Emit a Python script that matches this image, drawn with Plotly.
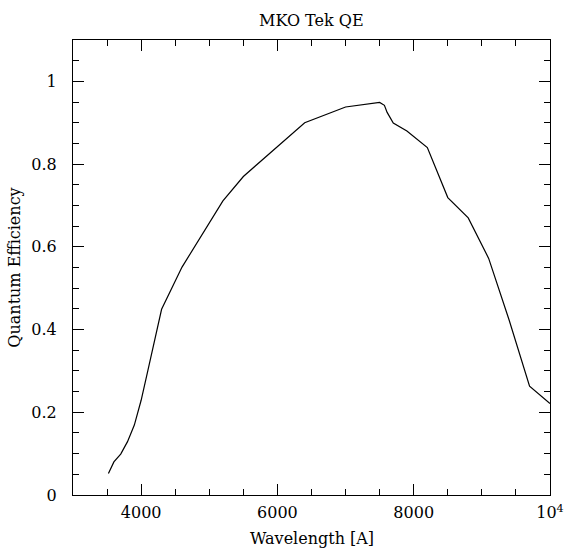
import plotly.graph_objects as go

wavelength = [3520, 3600, 3700, 3800, 3900, 4000, 4100, 4200, 4300, 4600, 4900, 5200,
              5500, 5800, 6400, 7000, 7500, 7570, 7610, 7700, 7900, 8200, 8500, 8800,
              9100, 9400, 9700, 10000]
qe = [0.052, 0.080, 0.099, 0.129, 0.169, 0.229, 0.302, 0.374, 0.449, 0.551, 0.632, 0.711,
      0.770, 0.814, 0.900, 0.938, 0.949, 0.942, 0.925, 0.899, 0.880, 0.840, 0.719, 0.670,
      0.572, 0.423, 0.263, 0.221]

x_tickvals = [4000, 6000, 8000, 10000]
x_ticktext = ["4000", "6000", "8000", "10<sup>4</sup>"]
y_tickvals = [0, 0.2, 0.4, 0.6, 0.8, 1.0]
y_ticktext = ["0", "0.2", "0.4", "0.6", "0.8", "1"]

FONT = "DejaVu Serif"

fig = go.Figure()
fig.add_trace(go.Scatter(x=wavelength, y=qe, mode="lines",
                         line=dict(color="black", width=1.2), showlegend=False))
# invisible trace to activate mirror axes
fig.add_trace(go.Scatter(x=[3000], y=[0], xaxis="x2", yaxis="y2", mode="markers",
                         marker=dict(opacity=0), showlegend=False, hoverinfo="skip"))

common = dict(showgrid=False, zeroline=False, showline=True, linecolor="black", linewidth=1.2,
              ticks="inside", ticklen=11, tickwidth=1, tickcolor="black", automargin=False)

fig.update_layout(
    width=564, height=550,
    margin=dict(l=73, r=14, t=40, b=55),
    paper_bgcolor="white", plot_bgcolor="white",
    font=dict(family=FONT, size=16, color="black"),
    xaxis=dict(range=[3000, 10000], tickvals=x_tickvals, ticktext=x_ticktext,
               tickfont=dict(size=16), ticklabelstandoff=3,
               minor=dict(dtick=500, tick0=0, ticks="inside", ticklen=5.5, tickcolor="black"),
               **common),
    yaxis=dict(range=[0, 1.1], tickvals=y_tickvals, ticktext=y_ticktext,
               tickfont=dict(size=16), ticklabelstandoff=12,
               minor=dict(dtick=0.05, tick0=0, ticks="inside", ticklen=5.5, tickcolor="black"),
               title=dict(text="Quantum Efficiency", standoff=6, font=dict(size=16)),
               **common),
    xaxis2=dict(range=[3000, 10000], overlaying="x", side="top", anchor="y", showticklabels=False,
                tickvals=x_tickvals,
                minor=dict(dtick=500, tick0=0, ticks="inside", ticklen=5.5, tickcolor="black"),
                **common),
    yaxis2=dict(range=[0, 1.1], overlaying="y", side="right", anchor="x", showticklabels=False,
                tickvals=y_tickvals,
                minor=dict(dtick=0.05, tick0=0, ticks="inside", ticklen=5.5, tickcolor="black"),
                **common),
    annotations=[
        dict(text="MKO Tek QE", x=0.5, y=1, xref="paper", yref="paper",
             yshift=8, showarrow=False, yanchor="bottom",
             font=dict(size=16, family=FONT)),
        dict(text="Wavelength [A]", x=0.5, y=0, xref="paper", yref="paper",
             yshift=-43, showarrow=False, yanchor="middle",
             font=dict(size=16, family=FONT)),
    ],
)

fig.write_html("out.html")
